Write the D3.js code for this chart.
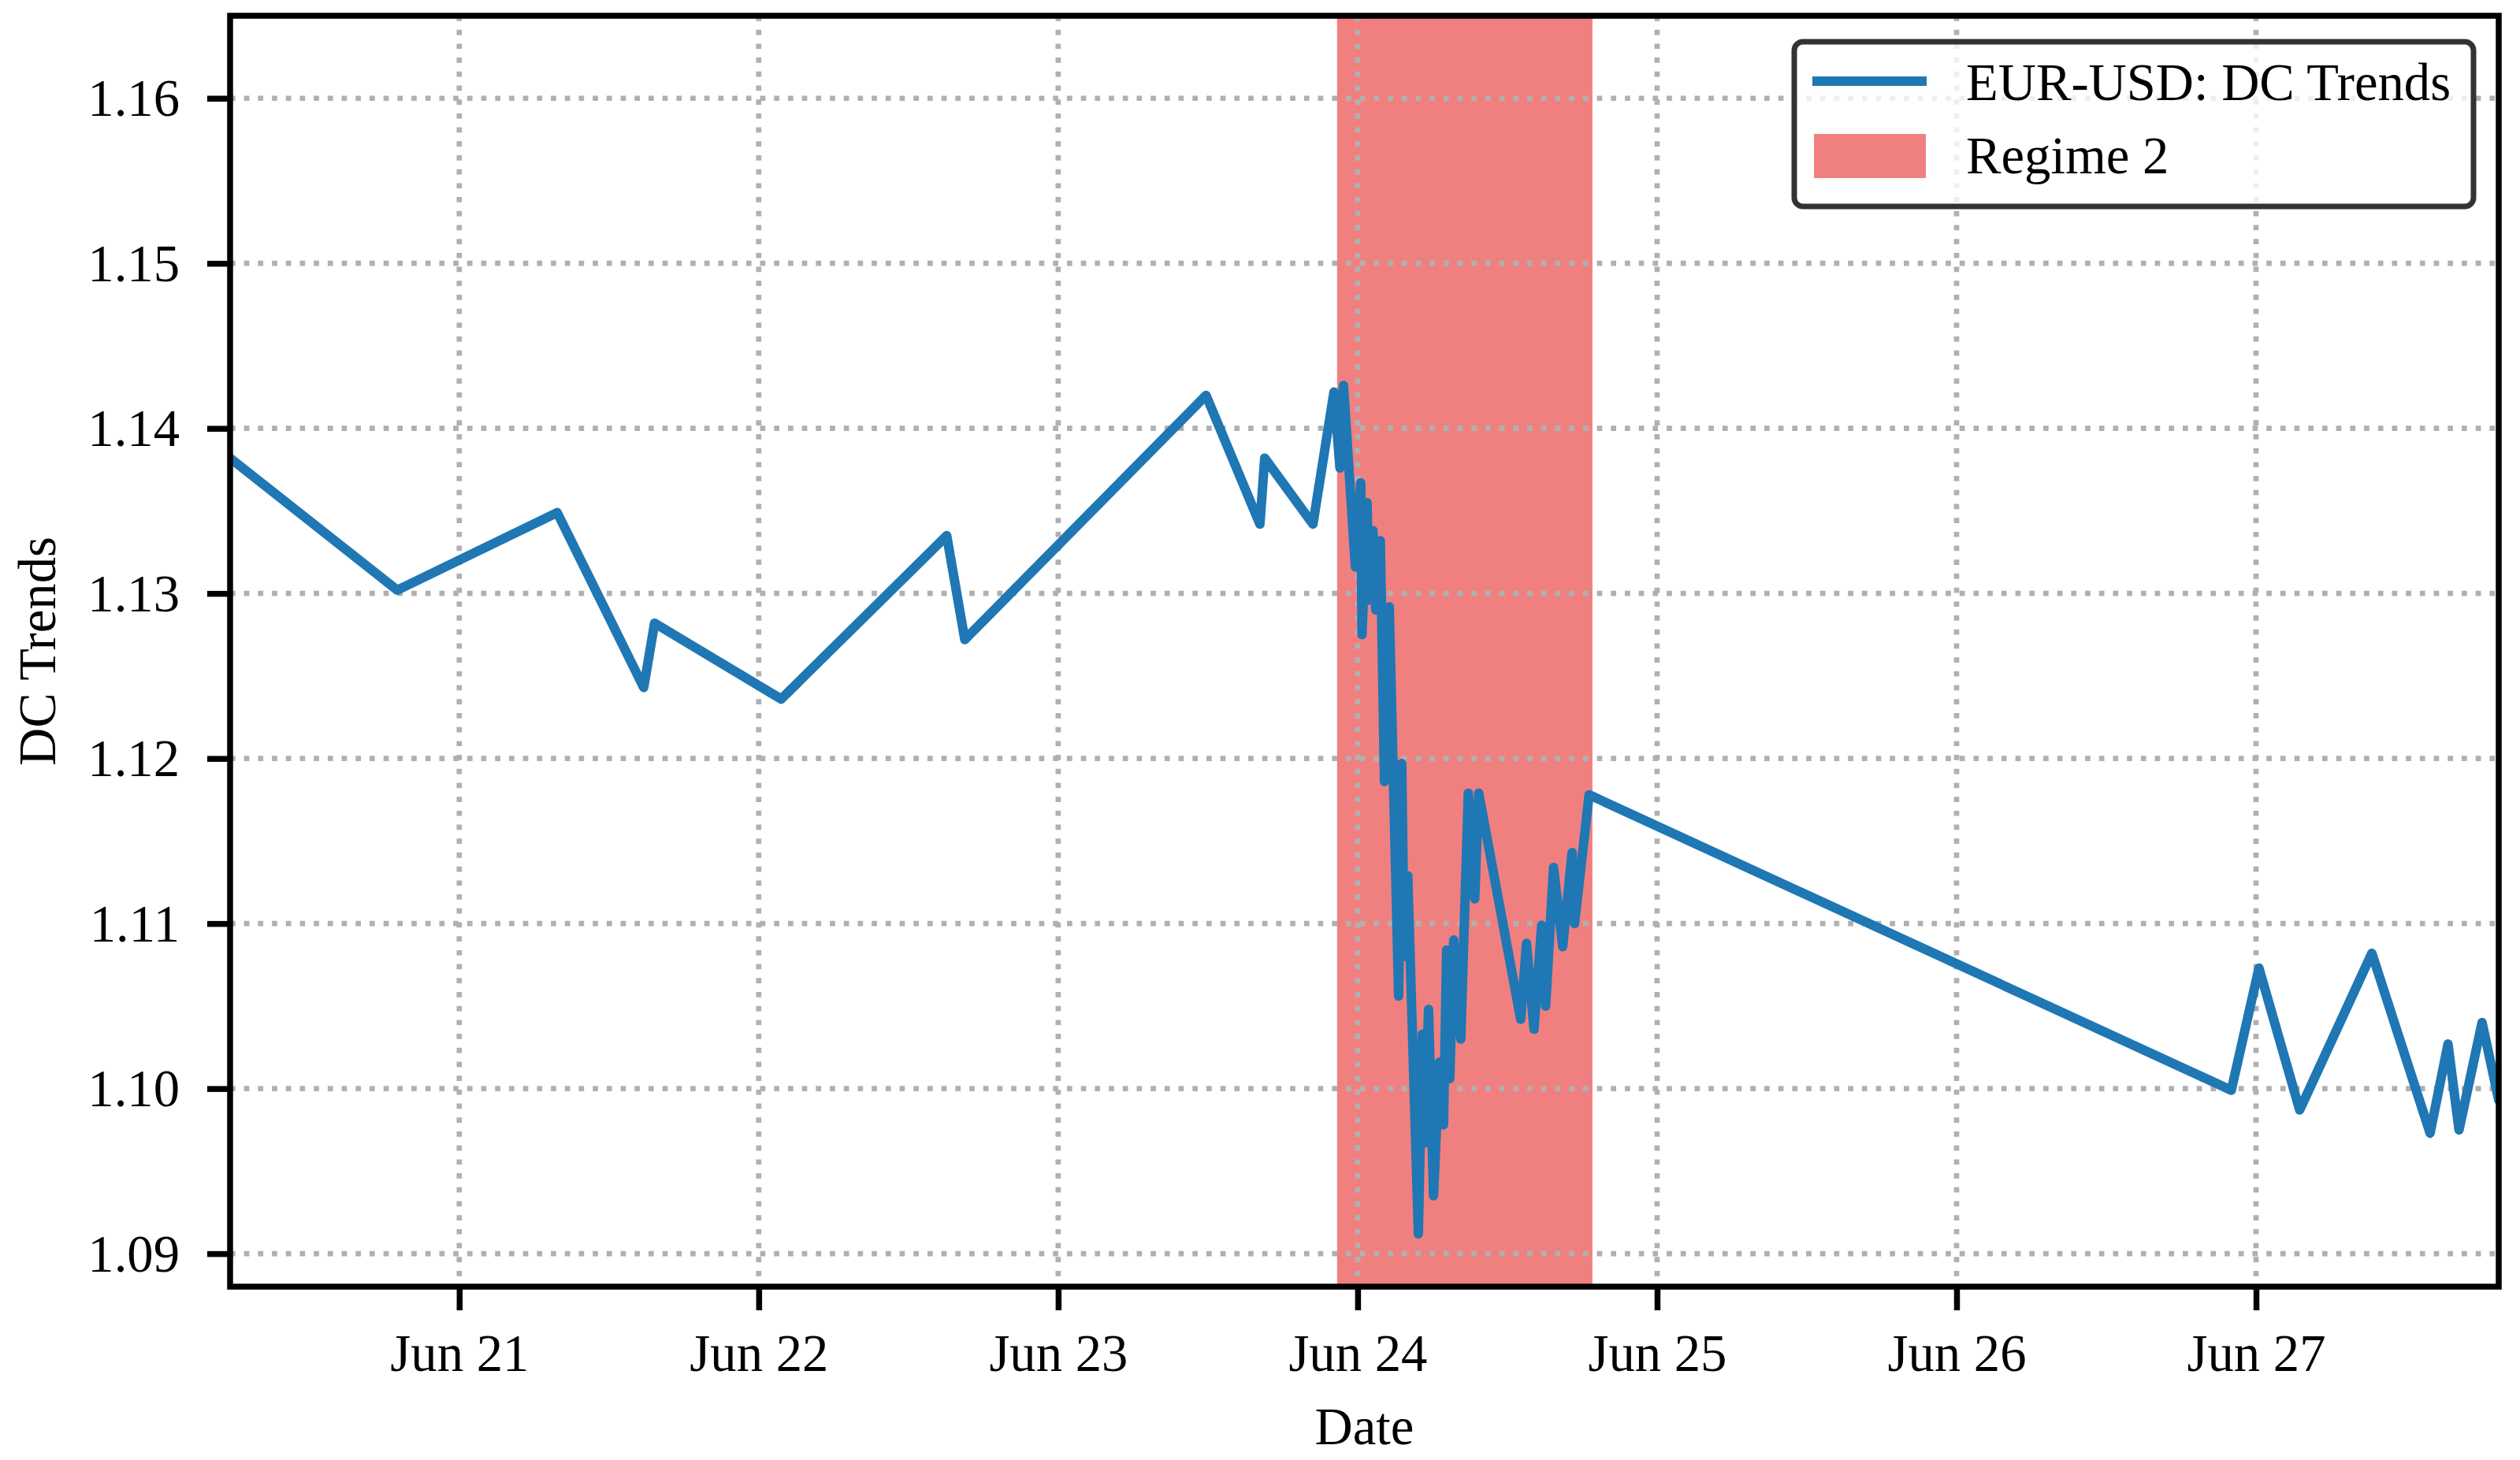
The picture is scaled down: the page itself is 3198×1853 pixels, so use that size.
<!DOCTYPE html>
<html>
<head>
<meta charset="utf-8">
<script src="https://cdn.jsdelivr.net/npm/d3@7"></script>
<style>
  body { margin: 0; background: #fff; }
  svg { display: block; }
  text { font-family: "Liberation Serif", "Times New Roman", serif; fill: #000; }
</style>
</head>
<body>
<svg id="chart" width="3198" height="1853"></svg>
<script>
// ---------------- data ----------------
const times = [
  "2016-06-20T05:38","2016-06-20T19:02","2016-06-21T07:51","2016-06-21T14:47","2016-06-21T15:39",
  "2016-06-22T01:48","2016-06-22T15:04","2016-06-22T16:31","2016-06-23T11:51","2016-06-23T16:10",
  "2016-06-23T16:33","2016-06-23T20:25","2016-06-23T22:06","2016-06-23T22:35","2016-06-23T22:52",
  "2016-06-23T23:49","2016-06-24T00:15","2016-06-24T00:21","2016-06-24T00:45","2016-06-24T00:57",
  "2016-06-24T01:14","2016-06-24T01:27","2016-06-24T01:49","2016-06-24T02:09","2016-06-24T02:32",
  "2016-06-24T03:17","2016-06-24T03:32","2016-06-24T03:44","2016-06-24T04:01","2016-06-24T04:52",
  "2016-06-24T05:11","2016-06-24T05:22","2016-06-24T05:41","2016-06-24T06:05","2016-06-24T06:33",
  "2016-06-24T06:53","2016-06-24T07:08","2016-06-24T07:23","2016-06-24T07:42","2016-06-24T08:16",
  "2016-06-24T08:52","2016-06-24T09:23","2016-06-24T09:42","2016-06-24T13:04","2016-06-24T13:32",
  "2016-06-24T14:08","2016-06-24T14:45","2016-06-24T15:04","2016-06-24T15:42","2016-06-24T16:26",
  "2016-06-24T17:11","2016-06-24T17:23","2016-06-24T18:33","2016-06-26T22:01","2016-06-27T00:14",
  "2016-06-27T03:30","2016-06-27T09:17","2016-06-27T13:57","2016-06-27T15:23","2016-06-27T16:16",
  "2016-06-27T18:07","2016-06-27T19:27"
];
const values = [
  1.1382,1.1302,1.1349,1.1243,1.1282,
  1.1236,1.1335,1.1272,1.1420,1.1342,
  1.1382,1.1342,1.1422,1.1376,1.1426,
  1.1316,1.1367,1.1275,1.1355,1.1296,
  1.1338,1.1290,1.1332,1.1186,1.1292,
  1.1056,1.1197,1.1080,1.1129,1.0912,
  1.1033,1.0967,1.1048,1.0935,1.1016,
  1.0978,1.1084,1.1006,1.1090,1.1030,
  1.1179,1.1115,1.1179,1.1042,1.1088,
  1.1036,1.1099,1.1050,1.1134,1.1086,
  1.1143,1.1100,1.1178,1.0999,1.1073,
  1.0987,1.1082,1.0973,1.1027,1.0975,
  1.1040,1.0993
];
const regimeSpan = ["2016-06-23T22:21", "2016-06-24T18:49"];
const xTickDates = ["2016-06-21T00:00","2016-06-22T00:00","2016-06-23T00:00","2016-06-24T00:00","2016-06-25T00:00","2016-06-26T00:00","2016-06-27T00:00"];
const xTickLabels = ["Jun 21","Jun 22","Jun 23","Jun 24","Jun 25","Jun 26","Jun 27"];
const yTicks = [1.09, 1.10, 1.11, 1.12, 1.13, 1.14, 1.15, 1.16];
const yDomain = [1.088, 1.165];
const seriesLabel = "EUR-USD: DC Trends";
const regimeLabel = "Regime 2";
const xAxisTitle = "Date";
const yAxisTitle = "DC Trends";

// ---------------- setup ----------------
const W = 3198, H = 1853;
const margin = { left: 292, right: 27, top: 20, bottom: 220 };
const pw = W - margin.left - margin.right;
const ph = H - margin.top - margin.bottom;
const FONT = "66.7px";
const lineColor = "#1f77b4";
const bandColor = "#f08080";
const gridColor = "#b0b0b0";
const LW = 12;

const parse = d3.timeParse("%Y-%m-%dT%H:%M");
const data = times.map((t, i) => ({ t: parse(t), v: values[i] }));

const x = d3.scaleTime().domain(d3.extent(data, d => d.t)).range([0, pw]);
const y = d3.scaleLinear().domain(yDomain).range([ph, 0]);

const svg = d3.select("#chart");
svg.append("rect").attr("width", W).attr("height", H).attr("fill", "#fff");

const g = svg.append("g").attr("transform", `translate(${margin.left},${margin.top})`);

g.append("defs").append("clipPath").attr("id", "plotclip")
  .append("rect").attr("width", pw).attr("height", ph);

// regime band
const rs = parse(regimeSpan[0]), re = parse(regimeSpan[1]);
g.append("rect")
  .attr("clip-path", "url(#plotclip)")
  .attr("x", x(rs)).attr("y", 0)
  .attr("width", x(re) - x(rs)).attr("height", ph)
  .attr("fill", bandColor);

// grid
const xTicks = xTickDates.map(parse);
const grid = g.append("g").attr("clip-path", "url(#plotclip)");
grid.selectAll("line.vg").data(xTicks).enter().append("line")
  .attr("x1", d => x(d)).attr("x2", d => x(d)).attr("y1", 0).attr("y2", ph)
  .attr("stroke", gridColor).attr("stroke-width", 6.7).attr("stroke-dasharray", "6.7 11");
grid.selectAll("line.hg").data(yTicks).enter().append("line")
  .attr("y1", d => y(d)).attr("y2", d => y(d)).attr("x1", 0).attr("x2", pw)
  .attr("stroke", gridColor).attr("stroke-width", 6.7).attr("stroke-dasharray", "6.7 11");

// line
const lineGen = d3.line().x(d => x(d.t)).y(d => y(d.v));
g.append("path").datum(data)
  .attr("clip-path", "url(#plotclip)")
  .attr("d", lineGen)
  .attr("fill", "none")
  .attr("stroke", lineColor)
  .attr("stroke-width", LW)
  .attr("stroke-linejoin", "round")
  .attr("stroke-linecap", "round");

// axes
const yAxis = d3.axisLeft(y).tickValues(yTicks).tickSize(29).tickPadding(35).tickFormat(d3.format(".2f"));
const ya = g.append("g").call(yAxis);
ya.select(".domain").remove();
ya.selectAll(".tick line").attr("stroke", "#000").attr("stroke-width", 7.5);
ya.selectAll(".tick text").style("font-size", FONT).attr("dy", "0.33em")
  .style("font-family", '"Liberation Serif", "Times New Roman", serif');

const xAxis = d3.axisBottom(x).tickValues(xTicks).tickSize(30).tickFormat((d, i) => xTickLabels[i]);
const xa = g.append("g").attr("transform", `translate(0,${ph})`).call(xAxis);
xa.select(".domain").remove();
xa.selectAll(".tick line").attr("stroke", "#000").attr("stroke-width", 7.5);
xa.selectAll(".tick text").style("font-size", FONT).attr("y", 107).attr("dy", null)
  .style("font-family", '"Liberation Serif", "Times New Roman", serif');

// spines
g.append("rect").attr("x", 0).attr("y", 0).attr("width", pw).attr("height", ph)
  .attr("fill", "none").attr("stroke", "#000").attr("stroke-width", 7.5);

// axis titles
g.append("text").attr("x", pw / 2).attr("y", ph + 200)
  .attr("text-anchor", "middle").style("font-size", FONT).text(xAxisTitle);
g.append("text")
  .attr("transform", `translate(${70 - margin.left},${ph / 2}) rotate(-90)`)
  .attr("text-anchor", "middle").style("font-size", FONT).text(yAxisTitle);

// legend
const lg = g.append("g").attr("transform", `translate(${pw - 894},${33})`);
lg.append("rect").attr("x", 0).attr("y", 0).attr("width", 862).attr("height", 209)
  .attr("rx", 11).attr("ry", 11)
  .attr("fill", "#fff").attr("fill-opacity", 0.8)
  .attr("stroke", "#333").attr("stroke-width", 7);
lg.append("line").attr("x1", 23).attr("x2", 168).attr("y1", 50).attr("y2", 50)
  .attr("stroke", lineColor).attr("stroke-width", LW);
lg.append("text").attr("x", 218).attr("y", 74).style("font-size", FONT).text(seriesLabel);
lg.append("rect").attr("x", 25).attr("y", 117).attr("width", 142).attr("height", 56)
  .attr("fill", bandColor);
lg.append("text").attr("x", 218).attr("y", 167).style("font-size", FONT).text(regimeLabel);
</script>
</body>
</html>
